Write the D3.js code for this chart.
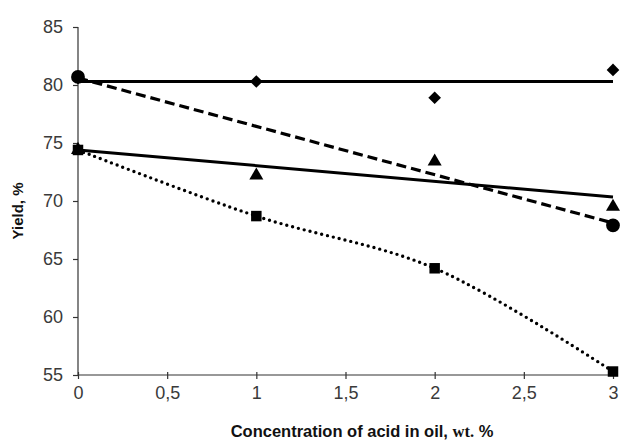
<!DOCTYPE html>
<html><head><meta charset="utf-8">
<script src="https://cdn.jsdelivr.net/npm/d3@7"></script>
<style>body{margin:0;background:#fff}svg{display:block}</style>
</head><body>
<svg id="c" width="621" height="442"></svg>
<script>
const xTicks = [0, 0.5, 1, 1.5, 2, 2.5, 3];
const xTickLabels = ["0", "0,5", "1", "1,5", "2", "2,5", "3"];
const yTicks = [55, 60, 65, 70, 75, 80, 85];

// marker series
const diamondX = [0, 1, 2, 3];
const diamondY = [80.6, 80.3, 78.9, 81.3];
const triangleX = [0, 1, 2, 3];
const triangleY = [74.4, 72.2, 73.4, 69.5];
const circleX = [0, 3];
const circleY = [80.7, 67.9];
const squareX = [0, 1, 2, 3];
const squareY = [74.4, 68.7, 64.2, 55.3];

// trend lines (endpoints at x = 0 and x = 3)
const trendX = [0, 3];
const diamondTrend = [80.3, 80.3];
const triangleTrend = [74.4, 70.35];
const circleTrend = [80.6, 68.1];

const svg = d3.select("#c");
const m = {l: 78, r: 613, t: 27, b: 375};
const x = d3.scaleLinear().domain([0, 3]).range([m.l, m.r]);
const y = d3.scaleLinear().domain([55, 85]).range([m.b, m.t]);
const FONT = "Liberation Sans, Arial, sans-serif";

// Y axis
const yAx = svg.append("g").attr("transform", `translate(${m.l},0)`)
  .call(d3.axisLeft(y).tickValues(yTicks).tickSize(5).tickPadding(10).tickFormat(d3.format("d")));
yAx.selectAll("text").attr("font-family", FONT).attr("font-size", 18).attr("fill", "#3a3a3a");
yAx.selectAll("line,path").attr("stroke", "#333").attr("stroke-width", 1.2);
yAx.select("path").attr("d", `M0,${m.t}V${m.b}`);

// X axis
const xAx = svg.append("g").attr("transform", `translate(0,${m.b})`)
  .call(d3.axisBottom(x).tickValues(xTicks).tickSize(4).tickPadding(7).tickFormat((d, i) => xTickLabels[i]));
xAx.selectAll(".tick line").attr("y1", -3);
xAx.selectAll("text").attr("font-family", FONT).attr("font-size", 18).attr("fill", "#3a3a3a");
xAx.selectAll("line,path").attr("stroke", "#333").attr("stroke-width", 1.2);
xAx.select("path").attr("d", `M${m.l},0H${m.r}`);

// Lines
const seg = (xs, ys) => xs.map((v, i) => [x(v), y(ys[i])]);
const ln = d3.line();
svg.append("path").attr("d", ln(seg(trendX, diamondTrend))).attr("stroke", "#000").attr("stroke-width", 3).attr("fill", "none");
svg.append("path").attr("d", ln(seg(trendX, triangleTrend))).attr("stroke", "#000").attr("stroke-width", 3).attr("fill", "none");
svg.append("path").attr("d", ln(seg(trendX, circleTrend))).attr("stroke", "#000").attr("stroke-width", 3.2).attr("fill", "none").attr("stroke-dasharray", "10,5");
svg.append("path").attr("d", d3.line().curve(d3.curveCatmullRom.alpha(0.5))(seg(squareX, squareY)))
  .attr("stroke", "#000").attr("stroke-width", 3.4).attr("fill", "none")
  .attr("stroke-dasharray", "0,6").attr("stroke-linecap", "round");

// Markers
const sym = (type, size, xs, ys, rot) => {
  svg.append("g").selectAll("path").data(xs).join("path")
    .attr("transform", (d, i) => `translate(${x(d)},${y(ys[i])}) rotate(${rot || 0})`)
    .attr("d", d3.symbol().type(type).size(size)).attr("fill", "#000");
};
sym(d3.symbolTriangle, 85, triangleX, triangleY);
sym(d3.symbolSquare, 80, diamondX, diamondY, 45);
sym(d3.symbolSquare, 110, squareX, squareY);
sym(d3.symbolCircle, 150, circleX, circleY);

// Titles
svg.append("text").attr("transform", "translate(23,211) rotate(-90)")
  .attr("text-anchor", "middle").attr("font-family", FONT)
  .attr("font-weight", "bold").attr("font-size", 15).attr("fill", "#111").text("Yield, %");
const xt = svg.append("text").attr("x", 362).attr("y", 437).attr("text-anchor", "middle")
  .attr("font-family", FONT).attr("font-weight", "bold").attr("font-size", 16.5).attr("fill", "#111");
xt.append("tspan").text("Concentration of acid in oil, ");
xt.append("tspan").attr("font-family", "Liberation Serif, Times New Roman, serif").text("wt.");
xt.append("tspan").text(" %");
</script>
</body></html>
